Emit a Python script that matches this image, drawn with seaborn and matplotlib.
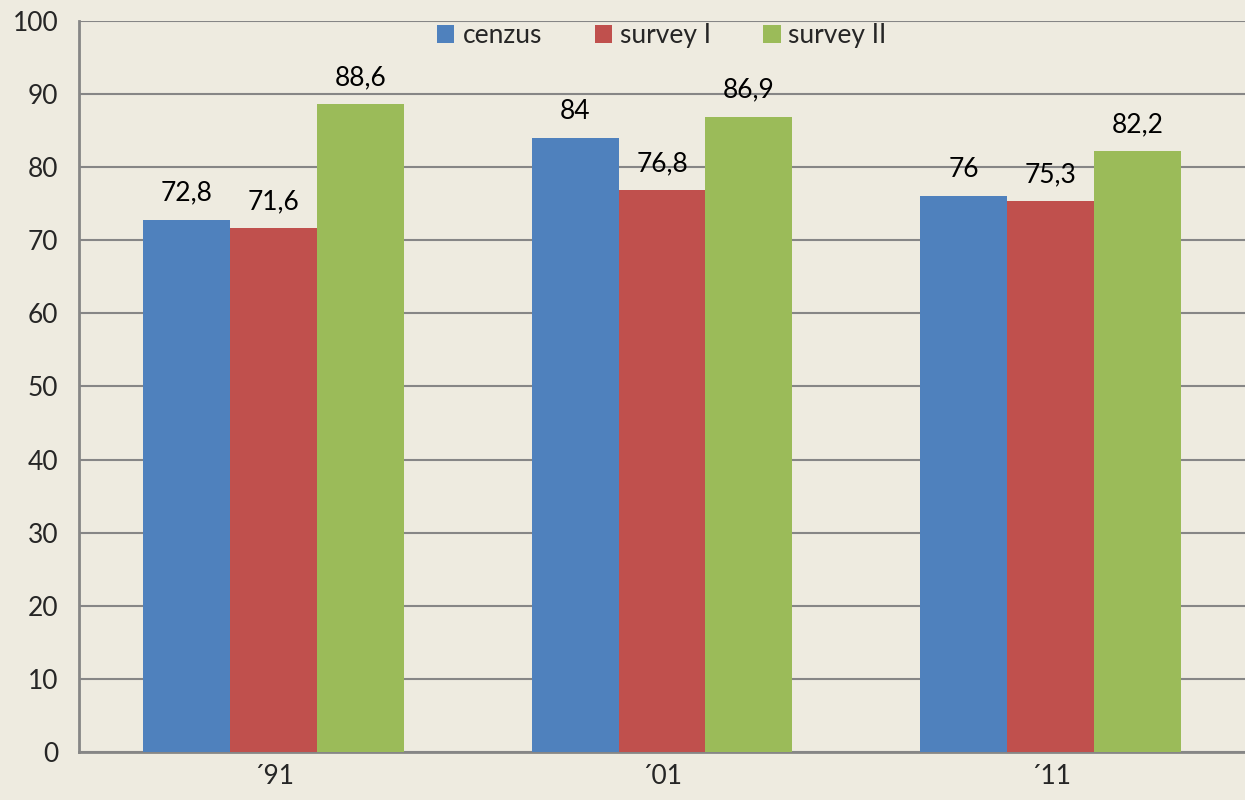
import pandas as pd
import seaborn as sns
from matplotlib import pyplot as plt

# values
years = ["\u00b491", "\u00b401", "\u00b411"]
series = ["cenzus", "survey I", "survey II"]
cenzus = [72.8, 84, 76]
survey1 = [71.6, 76.8, 75.3]
survey2 = [88.6, 86.9, 82.2]
colours = ["#4F81BD", "#C0504D", "#9BBB59"]

rows = []
for name, vals in zip(series, [cenzus, survey1, survey2]):
    for yr, v in zip(years, vals):
        rows.append({"year": yr, "series": name, "value": v})
df = pd.DataFrame(rows)

sns.set_style("white")
plt.rcParams["font.family"] = ["Lato", "DejaVu Sans"]
bg = "#EEEBE0"
grey = "#868686"

fig = plt.figure(figsize=(12.45, 8), dpi=100, facecolor=bg)
ax = fig.add_axes([0.0635, 0.06, 0.9365, 0.914])
ax.set_facecolor(bg)

sns.barplot(data=df, x="year", y="value", hue="series", palette=colours,
            width=0.67, saturation=1, linewidth=0, ax=ax, zorder=3)

for cont in ax.containers:
    labels = [("%g" % b.get_height()).replace(".", ",") for b in cont]
    ax.bar_label(cont, labels=labels, padding=10, fontsize=19, color="black")

ax.set_ylim(0, 100)
ax.set_xlim(-0.5, 2.5)
ax.set_yticks(range(0, 101, 10))
ax.yaxis.grid(True, color=grey, linewidth=1.5, zorder=0)
ax.set_axisbelow(True)
ax.tick_params(axis="y", labelsize=19, length=7, color=grey, width=1.5, pad=8)
ax.tick_params(axis="x", which="major", labelsize=19, length=0, pad=9)
ax.set_xticks([-0.5, 0.5, 1.5, 2.5], minor=True)
ax.tick_params(axis="x", which="minor", length=9, color=grey, width=1.5)
ax.set_xlabel("")
ax.set_ylabel("")

for side in ["top", "right"]:
    ax.spines[side].set_visible(False)
for side in ["left", "bottom"]:
    ax.spines[side].set_color(grey)
    ax.spines[side].set_linewidth(2)

leg = ax.legend(loc="upper center", bbox_to_anchor=(0.5, 1.0), ncol=3, frameon=False,
                fontsize=19, handlelength=0.65, handleheight=0.65, handletextpad=0.3,
                columnspacing=2.0, borderaxespad=0.0, borderpad=0.1)

fig.savefig("out.png", dpi=100, facecolor=bg)
